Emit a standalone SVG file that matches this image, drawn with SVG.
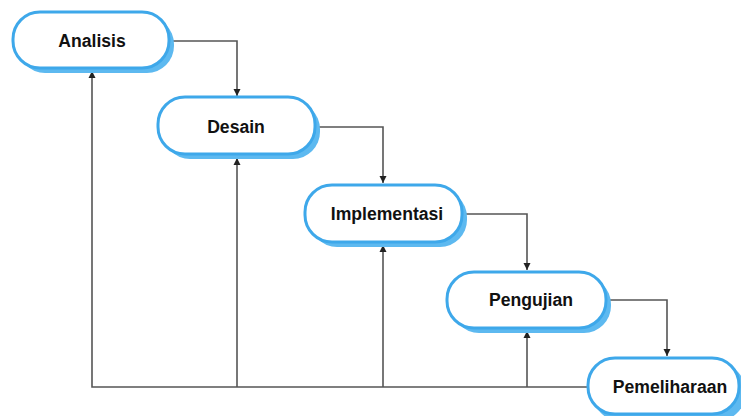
<svg xmlns="http://www.w3.org/2000/svg" width="741" height="416" viewBox="0 0 741 416">
<defs>
<marker id="arr" viewBox="0 0 10 10" refX="10" refY="5" markerWidth="7" markerHeight="9" markerUnits="userSpaceOnUse" orient="auto">
<path d="M0,0 L10,5 L0,10 Z" fill="#222"/>
</marker>
</defs>
<style>
.sh{fill:#5db9f0;}
.bx{fill:#fff;stroke:#3ea8ea;stroke-width:3;}
.lb{font-family:"Liberation Sans",Arial,sans-serif;font-weight:bold;font-size:17.6px;fill:#111;text-anchor:middle;}
.ln{fill:none;stroke:#555;stroke-width:1.6;}
</style>
<rect width="741" height="416" fill="#fff"/>
<g id="connectors">
<path class="ln" d="M170,41 H237 V96" marker-end="url(#arr)"/>
<path class="ln" d="M317,127 H383 V183" marker-end="url(#arr)"/>
<path class="ln" d="M464,214 H527 V270" marker-end="url(#arr)"/>
<path class="ln" d="M609,300 H667 V356" marker-end="url(#arr)"/>
<path class="ln" d="M588,387 H92 V71" marker-end="url(#arr)"/>
<path class="ln" d="M237,387 V158" marker-end="url(#arr)"/>
<path class="ln" d="M383,387 V245" marker-end="url(#arr)"/>
<path class="ln" d="M527,387 V331" marker-end="url(#arr)"/>
</g>
<g id="analisis">
<rect class="sh" x="18" y="17" width="156" height="56" rx="27"/>
<rect class="bx" x="13" y="12" width="156" height="56" rx="27"/>
<text class="lb" x="92" y="47">Analisis</text>
</g>
<g id="desain">
<rect class="sh" x="163" y="102" width="157" height="57" rx="27"/>
<rect class="bx" x="158" y="97" width="157" height="57" rx="27"/>
<text class="lb" x="236" y="133">Desain</text>
</g>
<g id="implementasi">
<rect class="sh" x="310" y="190" width="157" height="57" rx="27"/>
<rect class="bx" x="305" y="185" width="157" height="57" rx="27"/>
<text class="lb" x="387" y="220">Implementasi</text>
</g>
<g id="pengujian">
<rect class="sh" x="452" y="277" width="159" height="56" rx="27"/>
<rect class="bx" x="447" y="272" width="159" height="56" rx="27"/>
<text class="lb" x="531" y="306">Pengujian</text>
</g>
<g id="pemeliharaan">
<rect class="sh" x="593" y="363" width="152" height="58" rx="27"/>
<rect class="bx" x="588" y="358" width="151" height="56" rx="27"/>
<text class="lb" x="670" y="393">Pemeliharaan</text>
</g>
</svg>
